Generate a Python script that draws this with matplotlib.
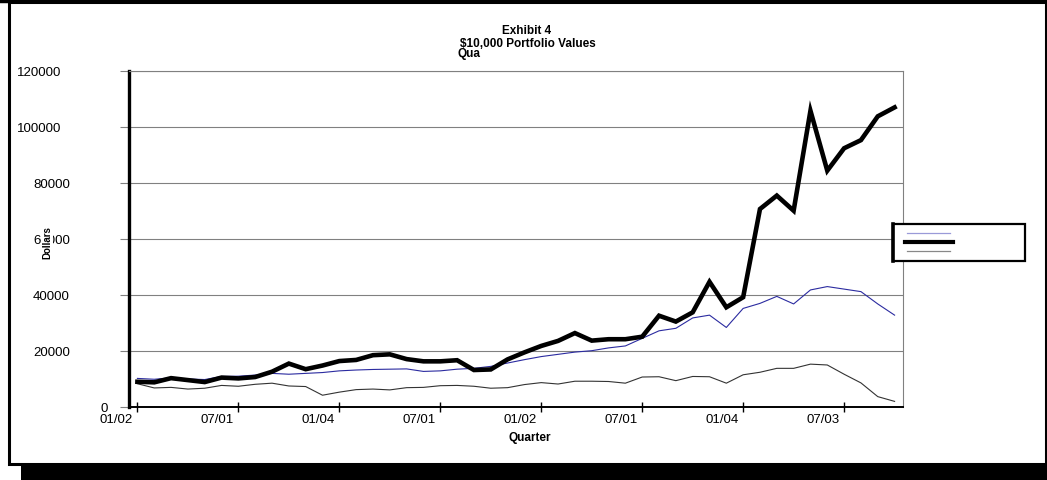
import numpy as np
import matplotlib
matplotlib.use('Agg')
import matplotlib.pyplot as plt
from matplotlib.patches import Rectangle
from matplotlib.lines import Line2D
from matplotlib.transforms import ScaledTranslation

plt.rcParams['font.family'] = ['Liberation Sans', 'DejaVu Sans']

#************************************
''' Data: quarterly values of a $10,000 investment '''
#************************************
quarter_labels = ['01/02', '07/01', '01/04', '07/01', '01/02', '07/01', '01/04', '07/03']
label_step = 6
y_ticks = [0, 20000, 40000, 60000, 80000, 100000, 120000]

blue_vals = [10100, 9800, 10300, 9900, 9700, 10800, 10900, 11300, 11900, 11600,
             11900, 12200, 12800, 13100, 13300, 13400, 13500, 12600, 12800, 13400,
             13700, 14400, 15600, 16800, 17900, 18700, 19500, 20000, 21000, 21700,
             24400, 27100, 28000, 31700, 32700, 28300, 35100, 36900, 39400, 36700,
             41700, 42900, 42000, 41100, 36700, 32700]
black_vals = [8900, 8700, 10200, 9500, 8800, 10400, 10100, 10600, 12500, 15400,
              13400, 14700, 16300, 16700, 18400, 18700, 17000, 16200, 16200, 16600,
              13100, 13300, 16900, 19400, 21700, 23500, 26300, 23600, 24100, 24100,
              25000, 32500, 30400, 33700, 44600, 35500, 39100, 70600, 75400, 70000,
              105700, 84300, 92300, 95200, 103700, 106900]
gray_vals = [8200, 6700, 6900, 6300, 6600, 7600, 7300, 8000, 8400, 7400,
             7200, 4100, 5200, 6100, 6300, 6000, 6800, 6900, 7500, 7600,
             7300, 6600, 6800, 7900, 8600, 8100, 9100, 9100, 9000, 8400,
             10600, 10700, 9300, 10800, 10700, 8400, 11400, 12300, 13700, 13700,
             15200, 14900, 11600, 8500, 3600, 1900]

#************************************
''' Plot '''
#************************************
W, H = 1047, 481
fig = plt.figure(figsize=(W/100, H/100), dpi=100)

def fx(x):
    return x / W

def fy(y):
    return 1 - y / H

# outer frame and drop shadow
fig.add_artist(Rectangle((fx(21), fy(481)), fx(1047) - fx(21), fy(466) - fy(481),
                         transform=fig.transFigure, facecolor='black', edgecolor='none'))
fig.add_artist(Rectangle((fx(8.5), fy(464.5)), fx(1045.5) - fx(8.5), fy(2.5) - fy(464.5),
                         transform=fig.transFigure, facecolor='none', edgecolor='black',
                         linewidth=2.2))
fig.add_artist(Line2D([0, 1], [fy(2), fy(2)], transform=fig.transFigure,
                      color='black', linewidth=3.2))

ax = fig.add_axes([fx(129), fy(407.7), fx(903) - fx(129), fy(71.7) - fy(407.7)])
x = np.arange(len(black_vals))

ax.plot(x, gray_vals, color='#333333', linewidth=0.8, zorder=3)
ax.plot(x, blue_vals, color='#2b2ba0', linewidth=0.8, zorder=3)
ax.plot(x, black_vals, color='black', linewidth=3.3, solid_joinstyle='miter', zorder=4)

ax.set_xlim(-0.5, len(black_vals) - 0.5)
ax.set_ylim(0, 120000)

ax.set_yticks(y_ticks)
ax.set_yticklabels([str(v) for v in y_ticks])
ax.yaxis.grid(True, color='#808080', linewidth=0.8)
ax.set_axisbelow(True)
ax.tick_params(axis='y', direction='out', length=6.5, width=0.8, color='#808080',
               pad=36, labelsize=9.5)
ax.set_xticks(x[::label_step])
ax.set_xticklabels(quarter_labels)
ax.tick_params(axis='x', direction='inout', length=6.5, width=1.0, color='black',
               pad=1, labelsize=9.5)

for s in ['top', 'right']:
    ax.spines[s].set_color('#808080')
    ax.spines[s].set_linewidth(0.8)
ax.spines['left'].set_linewidth(2.4)
ax.spines['bottom'].set_linewidth(1.4)

# odd label placement from the original exhibit
for lab in ax.get_xticklabels():
    lab.set_transform(lab.get_transform() + ScaledTranslation(-0.21, 0, fig.dpi_scale_trans))
for lab in ax.get_yticklabels():
    if lab.get_text() == '0':
        lab.set_transform(lab.get_transform() + ScaledTranslation(0.38, 0, fig.dpi_scale_trans))
    elif len(lab.get_text()) > 5:
        lab.set_transform(lab.get_transform() + ScaledTranslation(-0.09, 0, fig.dpi_scale_trans))

# titles
fig.text(fx(527), fy(31), 'Exhibit 4', ha='center', va='center', fontsize=8.5, fontweight='bold')
fig.text(fx(528), fy(44), '$10,000 Portfolio Values', ha='center', va='center',
         fontsize=8.5, fontweight='bold')
fig.text(fx(457), fy(54.5), 'Qua', ha='left', va='center', fontsize=8.5, fontweight='bold')
fig.text(fx(530), fy(438), 'Quarter', ha='center', va='center', fontsize=8.5, fontweight='bold')
fig.text(fx(47), fy(243), 'Dollars', ha='center', va='center', rotation=90,
         fontsize=7, fontweight='bold',
         bbox=dict(facecolor='white', edgecolor='none', pad=0.5))

# legend box without labels
fig.add_artist(Rectangle((fx(892.5), fy(261.5)), fx(1025) - fx(892.5), fy(224.5) - fy(261.5),
                         transform=fig.transFigure, facecolor='white', edgecolor='black',
                         linewidth=1.6, zorder=5))
fig.add_artist(Line2D([fx(892.5), fx(892.5)], [fy(224.5), fy(261.5)], transform=fig.transFigure,
                      color='black', linewidth=2.6, zorder=6))
fig.add_artist(Line2D([fx(907), fx(950)], [fy(233.7), fy(233.7)], transform=fig.transFigure,
                      color='#9a9ad8', linewidth=0.9, zorder=6))
fig.add_artist(Line2D([fx(905), fx(953)], [fy(242.7), fy(242.7)], transform=fig.transFigure,
                      color='black', linewidth=3.0, zorder=6))
fig.add_artist(Line2D([fx(907), fx(950)], [fy(251.7), fy(251.7)], transform=fig.transFigure,
                      color='#888888', linewidth=0.9, zorder=6))

fig.savefig('out.png', dpi=100)
plt.close()
